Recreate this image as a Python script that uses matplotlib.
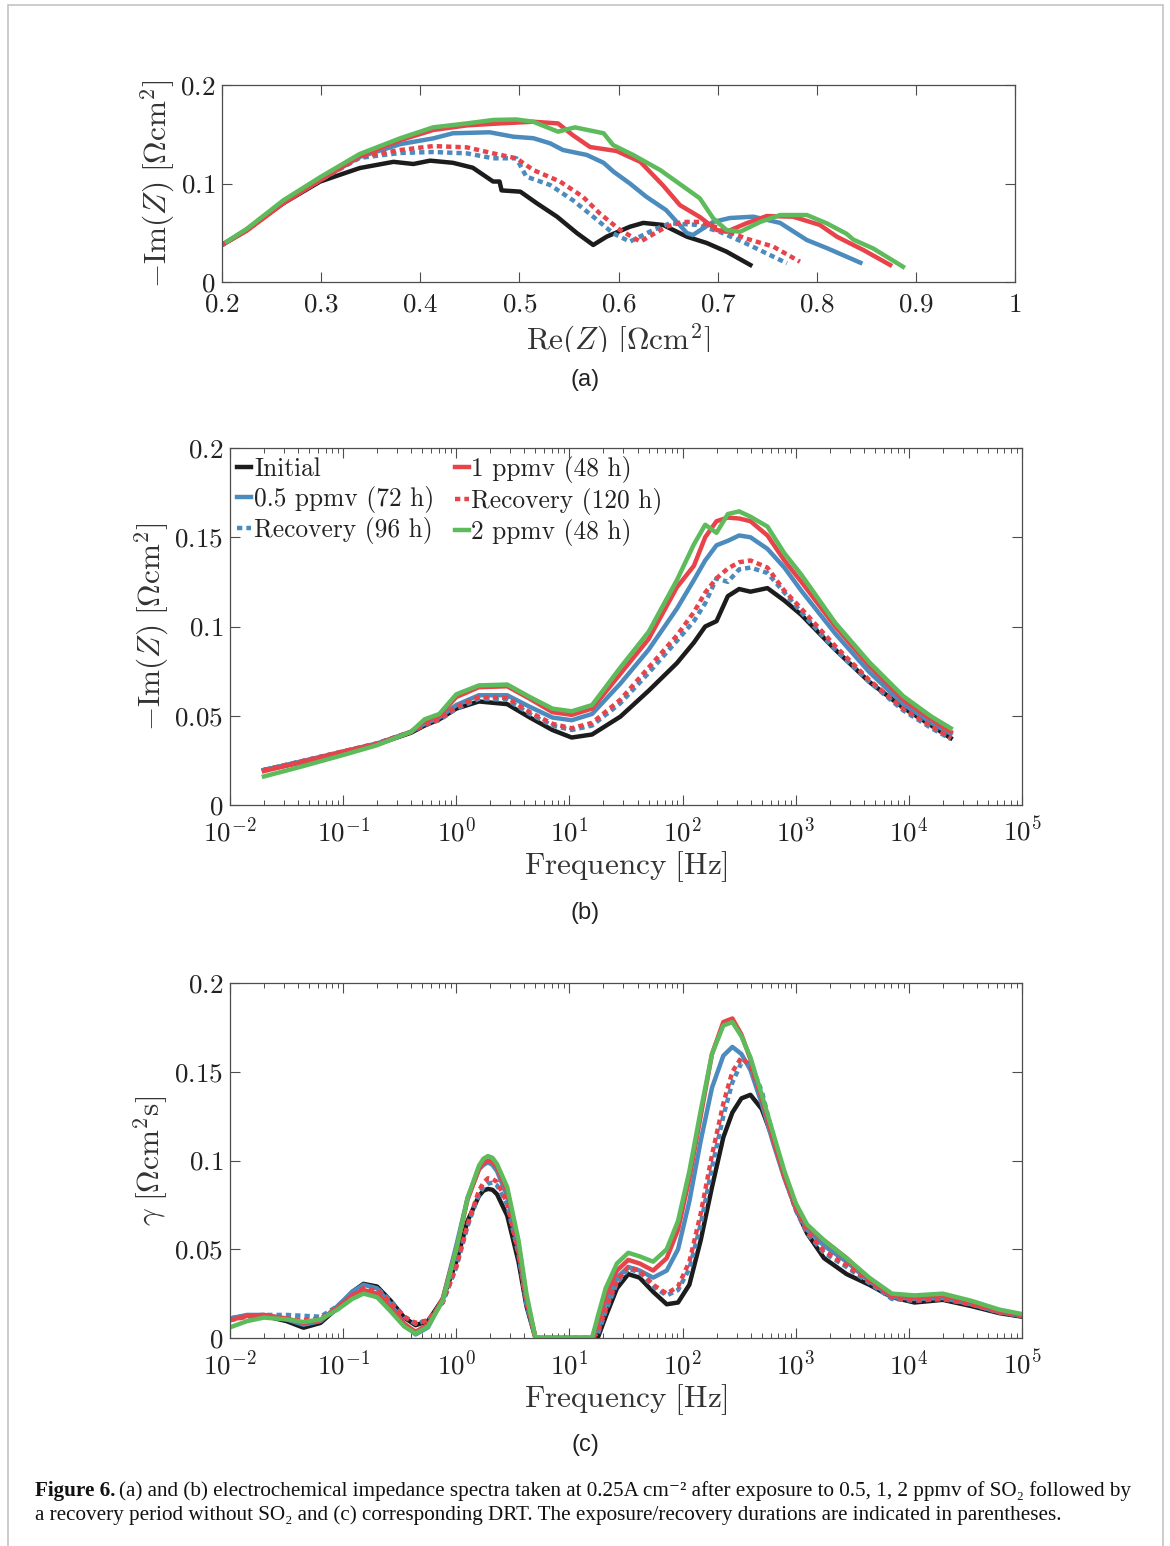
import numpy as np
import matplotlib
matplotlib.use("Agg")
import matplotlib.pyplot as plt
from matplotlib.patches import Rectangle
from matplotlib.ticker import FuncFormatter, FixedLocator, LogLocator, NullFormatter

# ---------------- data ----------------
labels = ["Initial", "0.5 ppmv (72 h)", "Recovery (96 h)",
          "1 ppmv (48 h)", "Recovery (120 h)", "2 ppmv (48 h)"]

# (a) Nyquist: Re(Z) and -Im(Z) per series [Ohm cm2]
re_init = [0.199, 0.225, 0.262, 0.299, 0.339, 0.373, 0.393, 0.410, 0.433, 0.453, 0.4735, 0.480, 0.482,
           0.501, 0.5175, 0.538, 0.558, 0.5745, 0.588, 0.6115, 0.625, 0.645, 0.669, 0.689, 0.709, 0.733]
im_init = [0.037, 0.053, 0.080, 0.102, 0.1157, 0.122, 0.1198, 0.1232, 0.121, 0.116, 0.102, 0.102, 0.093,
           0.0917, 0.080, 0.0663, 0.0497, 0.0376, 0.046, 0.0561, 0.060, 0.0579, 0.046, 0.0396, 0.0308, 0.0173]
re_05 = [0.199, 0.225, 0.262, 0.300, 0.339, 0.380, 0.413, 0.433, 0.470, 0.494, 0.514, 0.531, 0.544, 0.568,
         0.585, 0.595, 0.6115, 0.628, 0.648, 0.669, 0.675, 0.6955, 0.7126, 0.736, 0.763, 0.790, 0.810, 0.844]
im_05 = [0.037, 0.053, 0.081, 0.104, 0.127, 0.140, 0.1458, 0.151, 0.152, 0.1475, 0.146, 0.1408, 0.134, 0.129,
         0.121, 0.112, 0.100, 0.0866, 0.073, 0.0497, 0.0477, 0.061, 0.065, 0.0663, 0.060, 0.0426, 0.0345, 0.0196]
re_rec96 = [0.199, 0.225, 0.262, 0.300, 0.339, 0.380, 0.413, 0.447, 0.4735, 0.497, 0.507, 0.531, 0.554,
            0.5745, 0.5946, 0.6115, 0.635, 0.652, 0.679, 0.702, 0.729, 0.770]
im_rec96 = [0.037, 0.053, 0.081, 0.104, 0.126, 0.131, 0.132, 0.1306, 0.1256, 0.1256, 0.107, 0.0985, 0.083,
            0.0663, 0.0494, 0.041, 0.0528, 0.0596, 0.058, 0.051, 0.039, 0.019]
re_1 = [0.199, 0.225, 0.262, 0.300, 0.339, 0.380, 0.413, 0.447, 0.4805, 0.514, 0.539, 0.554, 0.5714, 0.598,
        0.622, 0.645, 0.662, 0.682, 0.699, 0.709, 0.729, 0.7497, 0.776, 0.803, 0.8203, 0.847, 0.874]
im_1 = [0.037, 0.052, 0.080, 0.104, 0.128, 0.144, 0.1543, 0.159, 0.161, 0.1627, 0.161, 0.149, 0.137, 0.133,
        0.122, 0.098, 0.078, 0.066, 0.0528, 0.051, 0.0596, 0.067, 0.0663, 0.058, 0.046, 0.0325, 0.0173]
re_rec120 = [0.199, 0.225, 0.262, 0.300, 0.339, 0.380, 0.413, 0.447, 0.4735, 0.497, 0.514, 0.541, 0.564,
             0.581, 0.6016, 0.622, 0.648, 0.665, 0.682, 0.702, 0.729, 0.756, 0.783]
im_rec120 = [0.037, 0.053, 0.081, 0.104, 0.127, 0.134, 0.138, 0.1367, 0.1306, 0.1256, 0.1137, 0.102, 0.0866,
             0.0697, 0.0528, 0.041, 0.056, 0.061, 0.061, 0.0545, 0.044, 0.036, 0.0206]
re_2 = [0.205, 0.225, 0.262, 0.300, 0.339, 0.380, 0.413, 0.447, 0.4735, 0.497, 0.514, 0.539, 0.556, 0.585,
        0.5946, 0.6147, 0.642, 0.682, 0.6955, 0.709, 0.7227, 0.743, 0.763, 0.790, 0.810, 0.830, 0.837, 0.857, 0.887]
im_2 = [0.041, 0.054, 0.083, 0.107, 0.130, 0.146, 0.157, 0.161, 0.1645, 0.165, 0.1627, 0.1526, 0.157, 0.151,
        0.139, 0.129, 0.1137, 0.085, 0.0647, 0.0528, 0.051, 0.061, 0.068, 0.068, 0.0596, 0.049, 0.043, 0.034, 0.0155]

# (b) Bode: log10(frequency / Hz) grid and -Im(Z)
logf_b = [-1.70, -1.40, -1.00, -0.70, -0.40, -0.28, -0.15, 0.00, 0.20, 0.45, 0.65, 0.85, 1.02, 1.20, 1.45,
          1.70, 1.95, 2.10, 2.20, 2.30, 2.40, 2.50, 2.60, 2.75, 2.90, 3.05, 3.35, 3.65, 3.95, 4.20, 4.37]
bode_init = [0.0196, 0.0235, 0.0297, 0.034, 0.0405, 0.0445, 0.048, 0.054, 0.058, 0.0565, 0.049, 0.042, 0.0378,
             0.0395, 0.0495, 0.064, 0.0795, 0.091, 0.100, 0.103, 0.117, 0.121, 0.1195, 0.1215, 0.1145, 0.1065,
             0.087, 0.069, 0.0545, 0.0445, 0.0375]
bode_05 = [0.0196, 0.024, 0.030, 0.0345, 0.041, 0.0455, 0.049, 0.056, 0.0615, 0.0615, 0.055, 0.049, 0.0475,
           0.051, 0.068, 0.087, 0.110, 0.126, 0.137, 0.1455, 0.148, 0.151, 0.150, 0.1435, 0.133, 0.120,
           0.096, 0.0745, 0.0565, 0.046, 0.040]
bode_rec96 = [0.0196, 0.024, 0.030, 0.0345, 0.041, 0.045, 0.0475, 0.054, 0.0595, 0.059, 0.051, 0.0445, 0.042,
              0.0445, 0.057, 0.074, 0.092, 0.103, 0.113, 0.127, 0.125, 0.132, 0.133, 0.130, 0.119, 0.108,
              0.087, 0.069, 0.053, 0.043, 0.037]
bode_1 = [0.019, 0.0235, 0.0297, 0.034, 0.041, 0.047, 0.050, 0.0605, 0.066, 0.0665, 0.0595, 0.052, 0.0505,
          0.054, 0.0735, 0.093, 0.122, 0.134, 0.150, 0.159, 0.161, 0.1605, 0.159, 0.151, 0.137, 0.125,
          0.100, 0.078, 0.059, 0.048, 0.041]
bode_rec120 = [0.0196, 0.024, 0.030, 0.0345, 0.041, 0.045, 0.048, 0.055, 0.0605, 0.060, 0.052, 0.0455, 0.043,
               0.046, 0.059, 0.077, 0.095, 0.108, 0.119, 0.127, 0.1325, 0.136, 0.137, 0.133, 0.120, 0.110,
               0.089, 0.070, 0.054, 0.044, 0.0375]
bode_2 = [0.016, 0.021, 0.028, 0.0335, 0.041, 0.048, 0.051, 0.062, 0.067, 0.0675, 0.0605, 0.054, 0.0525,
          0.056, 0.077, 0.097, 0.126, 0.146, 0.157, 0.1525, 0.163, 0.1645, 0.1615, 0.156, 0.141, 0.129,
          0.102, 0.080, 0.061, 0.0495, 0.043]

# (c) DRT: log10(frequency / Hz) grid and gamma [Ohm cm2 s]
logf_c = [-2.0, -1.85, -1.7, -1.5, -1.35, -1.2, -1.05, -0.92, -0.82, -0.7, -0.58, -0.46, -0.36, -0.25, -0.12,
          0.0, 0.1, 0.2, 0.24, 0.28, 0.32, 0.36, 0.45, 0.55, 0.62, 0.70, 1.20, 1.25, 1.32, 1.42, 1.52, 1.62,
          1.74, 1.86, 1.96, 2.06, 2.16, 2.26, 2.36, 2.44, 2.52, 2.60, 2.70, 2.80, 2.90, 3.00, 3.10, 3.25,
          3.45, 3.65, 3.85, 4.05, 4.30, 4.55, 4.80, 5.0]
drt_init = [0.011, 0.0125, 0.0125, 0.0095, 0.0058, 0.0085, 0.017, 0.026, 0.0305, 0.029, 0.021, 0.0115, 0.0072,
            0.0095, 0.022, 0.043, 0.066, 0.080, 0.083, 0.084, 0.0835, 0.081, 0.069, 0.043, 0.018, 0.0, 0.0,
            0.0, 0.012, 0.028, 0.036, 0.034, 0.026, 0.019, 0.020, 0.030, 0.055, 0.085, 0.113, 0.127, 0.135,
            0.137, 0.129, 0.112, 0.091, 0.073, 0.059, 0.045, 0.036, 0.030, 0.023, 0.020, 0.0215, 0.018,
            0.014, 0.012]
drt_05 = [0.011, 0.013, 0.013, 0.0105, 0.0075, 0.0095, 0.018, 0.026, 0.030, 0.028, 0.019, 0.008, 0.002,
          0.006, 0.022, 0.052, 0.079, 0.095, 0.0975, 0.099, 0.0975, 0.094, 0.080, 0.050, 0.021, 0.0, 0.0,
          0.006, 0.020, 0.034, 0.040, 0.038, 0.034, 0.038, 0.050, 0.077, 0.111, 0.141, 0.159, 0.164, 0.160,
          0.151, 0.132, 0.110, 0.090, 0.073, 0.061, 0.052, 0.043, 0.032, 0.023, 0.022, 0.0225, 0.019,
          0.0145, 0.0125]
drt_rec96 = [0.011, 0.012, 0.013, 0.013, 0.0125, 0.012, 0.018, 0.025, 0.029, 0.028, 0.021, 0.012, 0.008,
             0.010, 0.020, 0.040, 0.063, 0.081, 0.085, 0.087, 0.0875, 0.086, 0.075, 0.047, 0.019, 0.0, 0.0,
             0.002, 0.015, 0.031, 0.039, 0.037, 0.029, 0.024, 0.027, 0.039, 0.064, 0.096, 0.125, 0.144,
             0.155, 0.155, 0.139, 0.114, 0.091, 0.072, 0.059, 0.048, 0.040, 0.031, 0.022, 0.021, 0.022,
             0.019, 0.0145, 0.0125]
drt_1 = [0.010, 0.0125, 0.013, 0.011, 0.0085, 0.010, 0.017, 0.024, 0.027, 0.025, 0.017, 0.008, 0.0035,
         0.0075, 0.022, 0.050, 0.078, 0.095, 0.0985, 0.100, 0.099, 0.096, 0.083, 0.053, 0.023, 0.0, 0.0,
         0.009, 0.024, 0.038, 0.044, 0.042, 0.038, 0.045, 0.061, 0.090, 0.125, 0.160, 0.178, 0.180, 0.171,
         0.157, 0.135, 0.112, 0.091, 0.074, 0.063, 0.055, 0.045, 0.033, 0.024, 0.023, 0.024, 0.020, 0.015,
         0.013]
drt_rec120 = [0.010, 0.012, 0.0125, 0.011, 0.010, 0.011, 0.017, 0.024, 0.028, 0.027, 0.020, 0.012, 0.0085,
              0.010, 0.020, 0.040, 0.064, 0.083, 0.0875, 0.090, 0.0895, 0.088, 0.076, 0.048, 0.020, 0.0, 0.0,
              0.003, 0.016, 0.032, 0.040, 0.038, 0.030, 0.025, 0.029, 0.043, 0.070, 0.103, 0.132, 0.150,
              0.158, 0.153, 0.136, 0.113, 0.091, 0.073, 0.060, 0.049, 0.041, 0.032, 0.023, 0.021, 0.022,
              0.019, 0.0145, 0.0125]
drt_2 = [0.006, 0.0095, 0.0115, 0.0105, 0.009, 0.0105, 0.016, 0.022, 0.025, 0.023, 0.015, 0.0065, 0.0025,
         0.0065, 0.021, 0.050, 0.079, 0.097, 0.101, 0.1025, 0.1015, 0.098, 0.085, 0.055, 0.025, 0.0, 0.0,
         0.012, 0.028, 0.042, 0.048, 0.046, 0.043, 0.050, 0.066, 0.094, 0.128, 0.160, 0.176, 0.178, 0.170,
         0.158, 0.137, 0.1155, 0.094, 0.076, 0.064, 0.055, 0.045, 0.034, 0.025, 0.024, 0.025, 0.021, 0.016,
         0.0135]

colors = ["#1c1c1c", "#4b8bbd", "#4b8bbd", "#e8434a", "#e8434a", "#5dbb5b"]
dotted = (0, (1.2, 0.9))
styles = ["-", "-", dotted, "-", dotted, "-"]

nyq = [(re_init, im_init), (re_05, im_05), (re_rec96, im_rec96),
       (re_1, im_1), (re_rec120, im_rec120), (re_2, im_2)]
bode = [bode_init, bode_05, bode_rec96, bode_1, bode_rec120, bode_2]
drt = [drt_init, drt_05, drt_rec96, drt_1, drt_rec120, drt_2]

# ---------------- style ----------------
plt.rcParams["mathtext.fontset"] = "cm"
plt.rcParams["font.family"] = ["cmr10", "DejaVu Serif"]
plt.rcParams["axes.unicode_minus"] = False

W, H = 1170, 1546
fig = plt.figure(figsize=(W / 100, H / 100), dpi=100)
spine_c = "#4d4d4d"
lw = 3.2
tick_fs = 19.5
label_fs = 22.5


def px_axes(l, t, r, b):
    return fig.add_axes([l / W, 1 - b / H, (r - l) / W, (b - t) / H])


def style_axes(ax):
    for s in ax.spines.values():
        s.set_color(spine_c)
        s.set_linewidth(0.9)
    ax.tick_params(which="both", direction="in", top=True, right=True,
                   colors=spine_c, labelcolor="#222222", labelsize=tick_fs)
    ax.tick_params(which="major", length=7, width=0.8, pad=5)
    ax.tick_params(axis="x", which="major", pad=8)
    ax.tick_params(which="minor", length=3.5, width=0.7)


lin_fmt = FuncFormatter(lambda v, p: r"$%g$" % round(v, 3))
log_fmt = FuncFormatter(lambda v, p: r"$10^{%d}$" % round(np.log10(v)))

# ---------------- (a) ----------------
ax1 = px_axes(222, 85, 1015, 282)
style_axes(ax1)
for (x, y), c, ls in zip(nyq, colors, styles):
    ax1.plot(x, y, color=c, ls=ls, lw=lw)
ax1.set_xlim(0.2, 1.0)
ax1.set_ylim(0, 0.2)
ax1.xaxis.set_major_locator(FixedLocator(np.round(np.arange(0.2, 1.01, 0.1), 1)))
ax1.yaxis.set_major_locator(FixedLocator([0, 0.1, 0.2]))
ax1.xaxis.set_major_formatter(lin_fmt)
ax1.yaxis.set_major_formatter(lin_fmt)
ax1.set_xlabel(r"$\mathrm{Re}(Z)\ [\Omega\mathrm{cm}^2]$", fontsize=label_fs, color="#333333", labelpad=3)
ax1.set_ylabel(r"$-\mathrm{Im}(Z)\ [\Omega\mathrm{cm}^2]$", fontsize=label_fs, color="#333333", labelpad=2)

# ---------------- (b) ----------------
ax2 = px_axes(230, 448, 1022, 805)
style_axes(ax2)
fb = 10 ** np.array(logf_b)
for y, c, ls, lab in zip(bode, colors, styles, labels):
    ax2.plot(fb, y, color=c, ls=ls, lw=lw, label=lab)
ax2.set_xscale("log")
ax2.set_xlim(1e-2, 1e5)
ax2.set_ylim(0, 0.2)
ax2.xaxis.set_major_locator(LogLocator(base=10, numticks=20))
ax2.xaxis.set_minor_locator(LogLocator(base=10, subs=np.arange(2, 10), numticks=20))
ax2.xaxis.set_minor_formatter(NullFormatter())
ax2.xaxis.set_major_formatter(log_fmt)
ax2.yaxis.set_major_locator(FixedLocator([0, 0.05, 0.1, 0.15, 0.2]))
ax2.yaxis.set_major_formatter(lin_fmt)
ax2.set_xlabel(r"$\mathrm{Frequency\ [Hz]}$", fontsize=label_fs, color="#333333", labelpad=2)
ax2.set_ylabel(r"$-\mathrm{Im}(Z)\ [\Omega\mathrm{cm}^2]$", fontsize=label_fs, color="#333333", labelpad=2)
leg = ax2.legend(loc="upper left", bbox_to_anchor=(0.003, 0.992), ncol=2, frameon=False,
                 fontsize=18.3, handlelength=0.55, handletextpad=0.1, columnspacing=0.8,
                 labelspacing=0.18, borderpad=0.1, borderaxespad=0.1)
for t in leg.get_texts():
    t.set_color("#222222")

# ---------------- (c) ----------------
ax3 = px_axes(230, 983, 1022, 1338)
style_axes(ax3)
fc = 10 ** np.array(logf_c)
for y, c, ls in zip(drt, colors, styles):
    ax3.plot(fc, y, color=c, ls=ls, lw=lw)
ax3.set_xscale("log")
ax3.set_xlim(1e-2, 1e5)
ax3.set_ylim(0, 0.2)
ax3.xaxis.set_major_locator(LogLocator(base=10, numticks=20))
ax3.xaxis.set_minor_locator(LogLocator(base=10, subs=np.arange(2, 10), numticks=20))
ax3.xaxis.set_minor_formatter(NullFormatter())
ax3.xaxis.set_major_formatter(log_fmt)
ax3.yaxis.set_major_locator(FixedLocator([0, 0.05, 0.1, 0.15, 0.2]))
ax3.yaxis.set_major_formatter(lin_fmt)
ax3.set_xlabel(r"$\mathrm{Frequency\ [Hz]}$", fontsize=label_fs, color="#333333", labelpad=2)
ax3.set_ylabel(r"$\gamma\ [\Omega\mathrm{cm}^2\mathrm{s}]$", fontsize=label_fs, color="#333333", labelpad=2)

# ---------------- panel letters, frame, caption ----------------
for lab, ypx in [("(a)", 380), ("(b)", 913), ("(c)", 1445)]:
    fig.text(585 / W, 1 - ypx / H, lab, ha="center", va="center", fontsize=17,
             family=["Liberation Sans", "DejaVu Sans"], color="#222222")

# bottom of the (a) x-label is cut off in the original
fig.patches.append(Rectangle((480 / W, 1 - 366 / H), 280 / W, 14 / H, transform=fig.transFigure,
                             facecolor="white", edgecolor="none", zorder=10))
# page frame (open at the bottom)
fig.patches.append(Rectangle((8 / W, -0.01), (1163 - 8) / W, 1.01 - 5 / H, transform=fig.transFigure,
                             facecolor="none", edgecolor="#c4c4c4", lw=1.2, zorder=0))

cap_font = ["Liberation Serif", "DejaVu Serif"]
cap_size = 15.2
x0 = 35 / W
b1 = fig.text(x0, 1 - 1496 / H, "Figure 6.", fontsize=cap_size, weight="bold", family=cap_font,
              va="baseline", color="#111111")
r = fig.canvas.get_renderer()
bb = b1.get_window_extent(renderer=r)
fig.text(bb.x1 / W + 4 / W, 1 - 1496 / H,
         "(a) and (b) electrochemical impedance spectra taken at 0.25A cm\u207b\u00b2 after exposure to "
         "0.5, 1, 2 ppmv of SO\u2082 followed by",
         fontsize=cap_size, family=cap_font, va="baseline", color="#111111")
fig.text(x0, 1 - 1520 / H,
         "a recovery period without SO\u2082 and (c) corresponding DRT. The exposure/recovery durations "
         "are indicated in parentheses.",
         fontsize=cap_size, family=cap_font, va="baseline", color="#111111")

fig.savefig("out.png", dpi=100)
